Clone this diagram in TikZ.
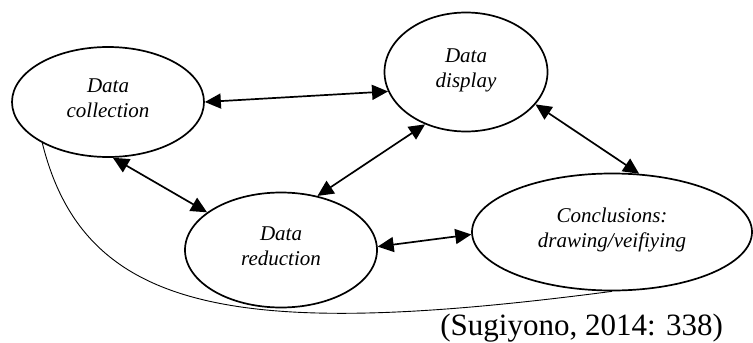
\documentclass[tikz,border=0pt]{standalone}
\usepackage{fontspec}
\setmainfont{Liberation Serif}
\usepackage{tikz}
\usetikzlibrary{arrows.meta,shapes.geometric}

\begin{document}
\begin{tikzpicture}[
    x=0.5pt, y=-0.5pt,
    stage/.style={draw, ellipse, line width=0.85pt, inner sep=0pt, align=center,
                  font=\fontsize{10.5}{12.5}\selectfont\itshape, text depth=4pt},
    flow/.style={{Triangle[length=8pt,width=7.5pt]}-{Triangle[length=8pt,width=7.5pt]},
                 line width=0.85pt},
    loop/.style={line width=0.45pt},
    source/.style={font=\fontsize{15.5}{18}\selectfont, anchor=base west, inner sep=0pt}
]
\useasboundingbox (0,0) rectangle (753,342);

% ---------- the four stages ----------
\node[stage, minimum width=96pt, minimum height=55pt] (coll) at (108,102) {Data\\collection};
\node[stage, minimum width=81.5pt, minimum height=59.5pt] (disp) at (466,72) {Data\\display};
\node[stage, minimum width=96pt, minimum height=57.5pt] (red) at (281,250) {Data\\reduction};
\node[stage, minimum width=140pt, minimum height=58.5pt] (concl) at (612,232)
   {Conclusions:\\drawing/veifiying};

% ---------- two-way links ----------
\draw[flow] (coll.0) -- (disp.194);
\draw[flow] (coll.275) -- (red.153);
\draw[flow] (red.56) -- (disp.232);
\draw[flow] (disp.335) -- (concl.65);
\draw[flow] (red.2) -- (concl.181);

% ---------- outer loop ----------
\draw[loop] (coll.212) .. controls (85,315) and (240,340) .. (concl.south);

% ---------- source ----------
\node[source] (src) at (440,335) {(Sugiyono, 2014: 338)};

\end{tikzpicture}
\end{document}
